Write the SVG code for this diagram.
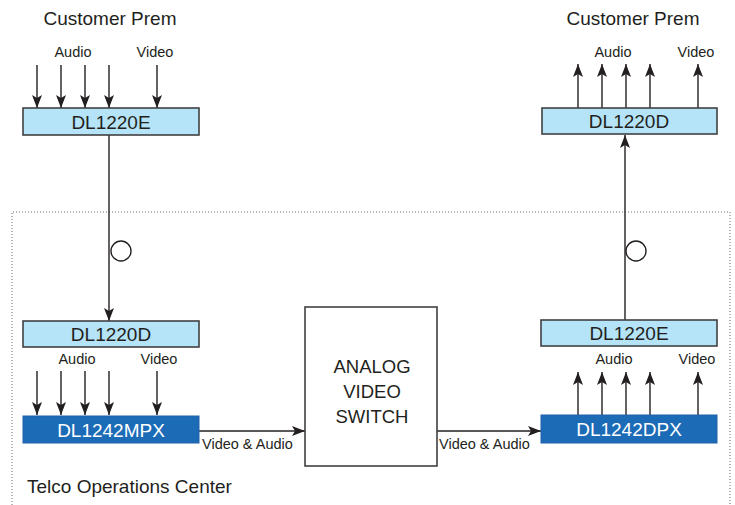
<svg xmlns="http://www.w3.org/2000/svg" width="735" height="505" viewBox="0 0 735 505">
<defs>
<marker id="ah" markerUnits="userSpaceOnUse" markerWidth="14" markerHeight="12" viewBox="0 0 14 12" refX="13" refY="6" orient="auto">
<path d="M0,1 L13,6 L0,11 L3,6 Z" fill="#231f20"/>
</marker>
<style>
.t{font-family:"Liberation Sans",Arial,sans-serif;fill:#231f20}
.big{font-size:19px}
.sm{font-size:14.5px}
.lb{fill:#b5e4f8;stroke:#414042;stroke-width:1.6}
.db{fill:#1c6bb6;stroke:#2062aa;stroke-width:1}
.w{fill:#ffffff}
.c{stroke:#231f20;stroke-width:1.4;fill:none}
.a{marker-end:url(#ah)}
</style>
</defs>
<rect width="735" height="505" fill="#ffffff"/>
<path d="M12,505 V212 H730 V505" fill="none" stroke="#6d6e71" stroke-width="1" stroke-dasharray="1,2"/>
<text class="t big" x="110" y="25" text-anchor="middle">Customer Prem</text>
<text class="t big" x="633" y="25" text-anchor="middle">Customer Prem</text>
<text class="t big" x="27" y="493">Telco Operations Center</text>
<text class="t sm" x="73" y="57" text-anchor="middle">Audio</text>
<text class="t sm" x="155" y="57" text-anchor="middle">Video</text>
<text class="t sm" x="77" y="364" text-anchor="middle">Audio</text>
<text class="t sm" x="159" y="364" text-anchor="middle">Video</text>
<text class="t sm" x="613" y="57" text-anchor="middle">Audio</text>
<text class="t sm" x="696" y="57" text-anchor="middle">Video</text>
<text class="t sm" x="614" y="364" text-anchor="middle">Audio</text>
<text class="t sm" x="697" y="364" text-anchor="middle">Video</text>
<text class="t sm" x="202" y="449">Video &amp; Audio</text>
<text class="t sm" x="439" y="449">Video &amp; Audio</text>
<g id="connectors">
<path class="c a" d="M37,65 V108"/>
<path class="c a" d="M61,65 V108"/>
<path class="c a" d="M85,65 V108"/>
<path class="c a" d="M109,65 V108"/>
<path class="c a" d="M157,65 V108"/>
<path class="c a" d="M109,135 V321"/>
<path class="c a" d="M37,371 V415"/>
<path class="c a" d="M61,371 V415"/>
<path class="c a" d="M85,371 V415"/>
<path class="c a" d="M109,371 V415"/>
<path class="c a" d="M157,371 V415"/>
<path class="c a" d="M199,431 H305"/>
<path class="c a" d="M437,431 H541"/>
<path class="c a" d="M578,415 V372"/>
<path class="c a" d="M602,415 V372"/>
<path class="c a" d="M626,415 V372"/>
<path class="c a" d="M650,415 V372"/>
<path class="c a" d="M698,415 V372"/>
<path class="c a" d="M625,320 V135"/>
<path class="c a" d="M578,108 V64"/>
<path class="c a" d="M602,108 V64"/>
<path class="c a" d="M626,108 V64"/>
<path class="c a" d="M650,108 V64"/>
<path class="c a" d="M698,108 V64"/>
<circle class="c" cx="121" cy="251" r="10" fill="#ffffff"/>
<circle class="c" cx="636" cy="251" r="10" fill="#ffffff"/>
</g>
<g id="dl1220e-left">
<rect class="lb" x="23" y="108" width="176" height="27"/>
<text class="t big" x="111" y="129" text-anchor="middle">DL1220E</text>
</g>
<g id="dl1220d-left">
<rect class="lb" x="23" y="321" width="176" height="26"/>
<text class="t big" x="111" y="341" text-anchor="middle">DL1220D</text>
</g>
<g id="dl1242mpx">
<rect class="db" x="23" y="416" width="176" height="27"/>
<text class="t big w" x="111" y="437" text-anchor="middle">DL1242MPX</text>
</g>
<g id="switch">
<rect x="305" y="307" width="132" height="159" fill="#ffffff" stroke="#414042" stroke-width="1.6"/>
<text class="t" font-size="18.5" x="372" y="373" text-anchor="middle">ANALOG</text>
<text class="t" font-size="18.5" x="372" y="398" text-anchor="middle">VIDEO</text>
<text class="t" font-size="18.5" x="372" y="423" text-anchor="middle">SWITCH</text>
</g>
<g id="dl1220d-right">
<rect class="lb" x="542" y="108" width="175" height="26"/>
<text class="t big" x="629" y="128" text-anchor="middle">DL1220D</text>
</g>
<g id="dl1220e-right">
<rect class="lb" x="541" y="320" width="176" height="26"/>
<text class="t big" x="629" y="340" text-anchor="middle">DL1220E</text>
</g>
<g id="dl1242dpx">
<rect class="db" x="541" y="415" width="176" height="28"/>
<text class="t big w" x="629" y="436" text-anchor="middle">DL1242DPX</text>
</g>
</svg>
